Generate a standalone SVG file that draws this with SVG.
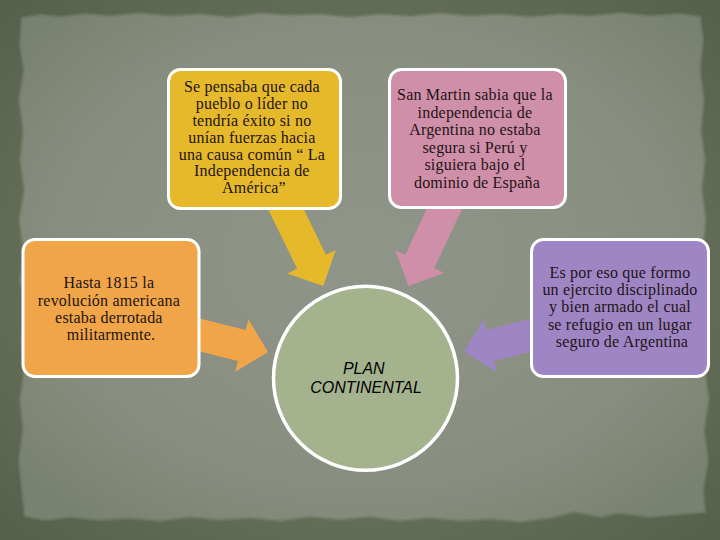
<svg xmlns="http://www.w3.org/2000/svg" width="720" height="540" viewBox="0 0 720 540">
<style>
.box{stroke:#ffffff;stroke-width:3}
.t{font-family:"Liberation Serif","DejaVu Serif",serif;font-size:16px;letter-spacing:0.2px;fill:#1e1414;text-anchor:middle}
.c{font-family:"Liberation Sans",Arial,sans-serif;font-size:16px;font-style:italic;fill:#000000;text-anchor:middle}
</style>
<defs>
<radialGradient id="paper" cx="50%" cy="48%" r="65%">
<stop offset="0" stop-color="#90958a"/>
<stop offset="0.7" stop-color="#888e7f"/>
<stop offset="1" stop-color="#798170"/>
</radialGradient>
<radialGradient id="outer" cx="50%" cy="50%" r="75%">
<stop offset="0.6" stop-color="#636d57"/>
<stop offset="1" stop-color="#535e48"/>
</radialGradient>
<path id="arrow" d="M0,-16 L73,-16 L73,-27 L100,0 L73,27 L73,16 L0,16 Z"/>
</defs>
<rect x="0" y="0" width="720" height="540" fill="url(#outer)"/>
<path fill="url(#paper)" stroke="#717a66" stroke-width="3" stroke-opacity="0.6" d="M22,18 L40,15 L60,17 L85,14 L110,16 L140,13 L170,16 L200,14 L230,17 L260,13 L290,15 L320,14 L350,17 L380,14 L410,16 L440,13 L470,16 L500,14 L530,17 L560,14 L590,16 L620,13 L650,16 L680,14 L700,17 L703,40 L700,70 L704,100 L701,130 L705,160 L702,190 L706,220 L703,250 L707,280 L704,310 L708,340 L705,370 L709,400 L704,430 L708,460 L703,490 L705,512 L680,514 L650,517 L620,513 L600,517 L575,512 L550,518 L520,522 L490,519 L460,521 L430,518 L400,521 L370,517 L340,520 L310,517 L280,521 L250,518 L220,520 L190,517 L160,521 L130,518 L100,520 L70,517 L45,520 L25,516 L22,490 L19,460 L23,430 L20,400 L24,370 L21,340 L25,310 L20,280 L23,250 L19,220 L24,190 L20,160 L23,130 L19,100 L24,70 L20,45 Z"/>
<g id="connectors">
<use href="#arrow" fill="#e6b92b" transform="translate(279.5,196.1) rotate(64)"/>
<use href="#arrow" fill="#d08fa8" transform="translate(450.6,195.4) rotate(115)"/>
<use href="#arrow" fill="#f0a549" transform="translate(171,327.8) rotate(14)"/>
<use href="#arrow" fill="#9e86c5" transform="translate(561,327.8) rotate(166)"/>
</g>
<g id="node-yellow">
<rect class="box" x="168.5" y="69.5" width="172" height="139" rx="12" fill="#e6b92b"/>
<text class="t">
<tspan x="254" y="92">Se pensaba que cada</tspan>
<tspan x="254" y="109">pueblo o líder no</tspan>
<tspan x="254" y="126">tendría éxito si no</tspan>
<tspan x="254" y="142.5">unían fuerzas hacia</tspan>
<tspan x="254" y="159.5">una causa común “ La</tspan>
<tspan x="254" y="176">Independencia de</tspan>
<tspan x="254" y="193">América”</tspan>
</text>
</g>
<g id="node-pink">
<rect class="box" x="389.5" y="69.5" width="176" height="138" rx="12" fill="#d08fa8"/>
<text class="t">
<tspan x="477" y="100">San Martin sabia que la</tspan>
<tspan x="477" y="117.5">independencia de</tspan>
<tspan x="477" y="135">Argentina no estaba</tspan>
<tspan x="477" y="152.7">segura si Perú y</tspan>
<tspan x="477" y="170.3">siguiera bajo el</tspan>
<tspan x="477" y="188">dominio de España</tspan>
</text>
</g>
<g id="node-orange">
<rect class="box" x="23" y="239.5" width="176" height="137" rx="12" fill="#f0a549"/>
<text class="t">
<tspan x="111" y="288.3">Hasta 1815  la</tspan>
<tspan x="111" y="305.5">revolución americana</tspan>
<tspan x="111" y="322.7">estaba derrotada</tspan>
<tspan x="111" y="340">militarmente.</tspan>
</text>
</g>
<g id="node-purple">
<rect class="box" x="531.5" y="239.5" width="177" height="137" rx="12" fill="#9e86c5"/>
<text class="t">
<tspan x="622" y="277.7">Es por eso que formo</tspan>
<tspan x="622" y="295">un ejercito disciplinado</tspan>
<tspan x="622" y="312.3">y bien armado el cual</tspan>
<tspan x="622" y="329.5">se refugio en un lugar</tspan>
<tspan x="622" y="346.7">seguro de Argentina</tspan>
</text>
</g>
<g id="node-center">
<circle cx="365.5" cy="378.3" r="92" fill="#a4b38e" stroke="#ffffff" stroke-width="3.5"/>
<text class="c">
<tspan x="366" y="374">PLAN</tspan>
<tspan x="366" y="392.7">CONTINENTAL</tspan>
</text>
</g>
</svg>
